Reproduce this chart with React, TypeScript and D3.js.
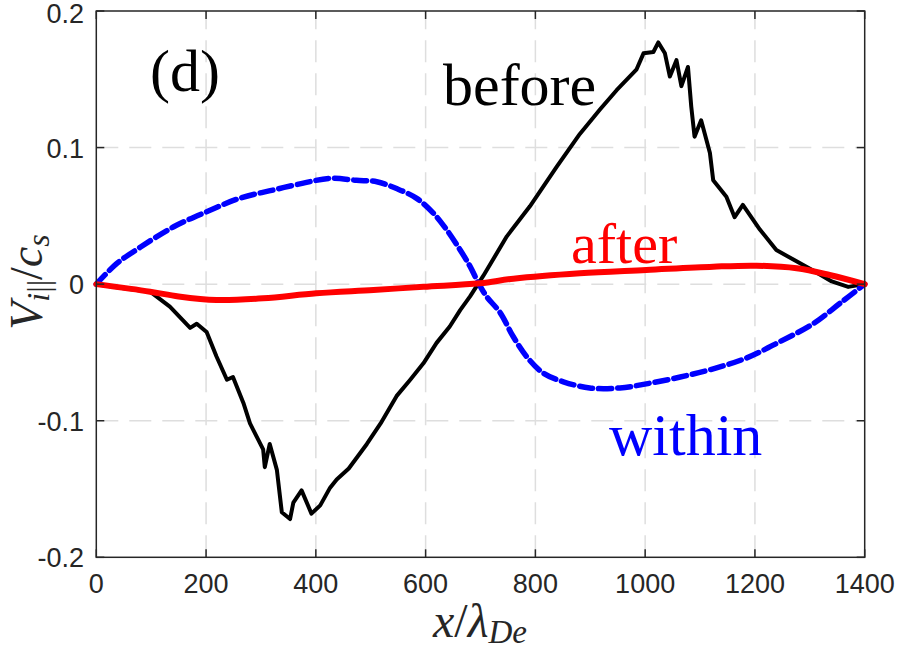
import * as d3 from 'd3';

const W = 897;
const H = 651;
const LEFT = 96.3;
const RIGHT = 864.7;
const TOP = 11;
const BOTTOM = 557.3;

const xTicks = [0, 200, 400, 600, 800, 1000, 1200, 1400];
const yTicks = [-0.2, -0.1, 0, 0.1, 0.2];
const yTickLabels = ['-0.2', '-0.1', '0', '0.1', '0.2'];

// "before" (black, noisy)
const beforeX = [0, 50, 98, 134, 171, 183, 201, 219, 238, 249, 268, 280, 304, 307, 316, 329, 338, 353, 359, 374, 392, 408, 426, 438, 460, 493, 518, 547, 572, 596, 620, 644, 663, 681, 705, 748, 790, 839, 881, 918, 948, 984, 997, 1015, 1024, 1036, 1045, 1057, 1066, 1078, 1084, 1090, 1102, 1118, 1124, 1148, 1163, 1178, 1209, 1239, 1270, 1306, 1340, 1370, 1400];
const beforeY = [0, -0.003, -0.0055, -0.0165, -0.032, -0.029, -0.035, -0.053, -0.07, -0.068, -0.087, -0.102, -0.121, -0.134, -0.117, -0.136, -0.167, -0.172, -0.16, -0.151, -0.168, -0.162, -0.149, -0.143, -0.135, -0.117, -0.102, -0.082, -0.07, -0.058, -0.043, -0.031, -0.019, -0.009, 0.006, 0.035, 0.057, 0.086, 0.11, 0.128, 0.142, 0.157, 0.169, 0.17, 0.177, 0.169, 0.152, 0.164, 0.145, 0.159, 0.13, 0.108, 0.12, 0.096, 0.076, 0.064, 0.049, 0.058, 0.04, 0.025, 0.018, 0.01, 0.002, -0.002, 0];

// "within" (blue, dashed)
const withinX = [0, 37, 80, 141, 201, 262, 323, 383, 426, 474, 511, 547, 583, 614, 638, 663, 681, 696, 711, 736, 759, 784, 814, 851, 899, 954, 1002, 1064, 1124, 1185, 1246, 1306, 1355, 1400];
const withinY = [0, 0.015, 0.027, 0.042, 0.053, 0.063, 0.069, 0.0745, 0.0775, 0.076, 0.075, 0.07, 0.063, 0.052, 0.04, 0.025, 0.013, 0.001, -0.009, -0.021, -0.038, -0.053, -0.065, -0.0715, -0.076, -0.076, -0.073, -0.068, -0.062, -0.054, -0.042, -0.029, -0.014, 0];

// "after" (red)
const afterX = [0, 98, 150, 219, 304, 401, 505, 596, 699, 760, 881, 1002, 1124, 1203, 1276, 1336, 1400];
const afterY = [0, -0.0055, -0.009, -0.0116, -0.0104, -0.0067, -0.0043, -0.0019, 0.0006, 0.004, 0.008, 0.0104, 0.0128, 0.0135, 0.0116, 0.0067, 0];

const SANS = 'Liberation Sans, Arial, sans-serif';
const SERIF = 'Liberation Serif, Times New Roman, serif';

export default function App() {
  const x = d3.scaleLinear().domain([0, 1400]).range([LEFT, RIGHT]);
  const y = d3.scaleLinear().domain([-0.2, 0.2]).range([BOTTOM, TOP]);

  const line = (xs: number[], ys: number[], curve: d3.CurveFactory) =>
    d3.line<number>()
      .x((_, i) => x(xs[i]))
      .y(d => y(d))
      .curve(curve)(ys) ?? '';

  const gridColor = '#dedede';
  const axisColor = '#262626';

  return (
    <svg width={W} height={H} style={{ position: 'absolute', left: 0, top: 0, background: '#fff' }}>
      {/* grid */}
      {xTicks.slice(1, -1).map(t => (
        <line key={'gx' + t} x1={x(t)} x2={x(t)} y1={BOTTOM} y2={TOP}
          stroke={gridColor} strokeWidth={1.5} strokeDasharray="22 11" />
      ))}
      {yTicks.slice(1, -1).map(t => (
        <line key={'gy' + t} x1={LEFT} x2={RIGHT} y1={y(t)} y2={y(t)}
          stroke={gridColor} strokeWidth={1.5} strokeDasharray="22 11" />
      ))}

      {/* series */}
      <path d={line(beforeX, beforeY, d3.curveLinear)} fill="none" stroke="#000"
        strokeWidth={4} strokeLinejoin="round" />
      <path d={line(withinX, withinY, d3.curveCatmullRom)} fill="none" stroke="#0000ff"
        strokeWidth={5.5} strokeDasharray="13 6" strokeLinecap="round" />
      <path d={line(afterX, afterY, d3.curveCatmullRom)} fill="none" stroke="#ff0000"
        strokeWidth={6} strokeLinecap="round" />

      {/* axes box */}
      <rect x={LEFT} y={TOP} width={RIGHT - LEFT} height={BOTTOM - TOP}
        fill="none" stroke={axisColor} strokeWidth={1.5} />
      {xTicks.map(t => (
        <g key={'tx' + t}>
          <line x1={x(t)} x2={x(t)} y1={BOTTOM} y2={BOTTOM - 8} stroke={axisColor} strokeWidth={1.5} />
          <line x1={x(t)} x2={x(t)} y1={TOP} y2={TOP + 8} stroke={axisColor} strokeWidth={1.5} />
          <text x={x(t)} y={593} textAnchor="middle" fontFamily={SANS} fontSize={27} fill={axisColor}>{t}</text>
        </g>
      ))}
      {yTicks.map((t, i) => (
        <g key={'ty' + t}>
          <line x1={LEFT} x2={LEFT + 8} y1={y(t)} y2={y(t)} stroke={axisColor} strokeWidth={1.5} />
          <line x1={RIGHT} x2={RIGHT - 8} y1={y(t)} y2={y(t)} stroke={axisColor} strokeWidth={1.5} />
          <text x={84} y={Math.max(y(t) + 10, 23)} textAnchor="end" fontFamily={SANS} fontSize={27} fill={axisColor}>{yTickLabels[i]}</text>
        </g>
      ))}

      {/* annotations */}
      <text x={150} y={91} fontFamily={SERIF} fontSize={60} fill="#000">(d)</text>
      <text x={443} y={105} fontFamily={SERIF} fontSize={60} fill="#000">before</text>
      <text x={571} y={263} fontFamily={SERIF} fontSize={58} fill="#ff0000">after</text>
      <text x={609} y={455} fontFamily={SERIF} fontSize={60} fill="#0000ff">within</text>

      {/* x label */}
      <text x={480} y={637} textAnchor="middle" fontFamily={SERIF} fontSize={48} fill={axisColor}>
        <tspan fontStyle="italic">x</tspan>
        <tspan>/</tspan>
        <tspan fontStyle="italic">λ</tspan>
        <tspan fontStyle="italic" fontSize={33} dy={6}>De</tspan>
      </text>

      {/* y label */}
      <text transform="translate(42,282) rotate(-90)" textAnchor="middle" fontFamily={SERIF} fontSize={46} fill={axisColor}>
        <tspan fontStyle="italic">V</tspan>
        <tspan fontStyle="italic" fontSize={32} dy={7}>i</tspan>
        <tspan fontSize={32}>||</tspan>
        <tspan dy={-7}>/</tspan>
        <tspan fontStyle="italic">c</tspan>
        <tspan fontStyle="italic" fontSize={32} dy={7}>s</tspan>
      </text>
    </svg>
  );
}
